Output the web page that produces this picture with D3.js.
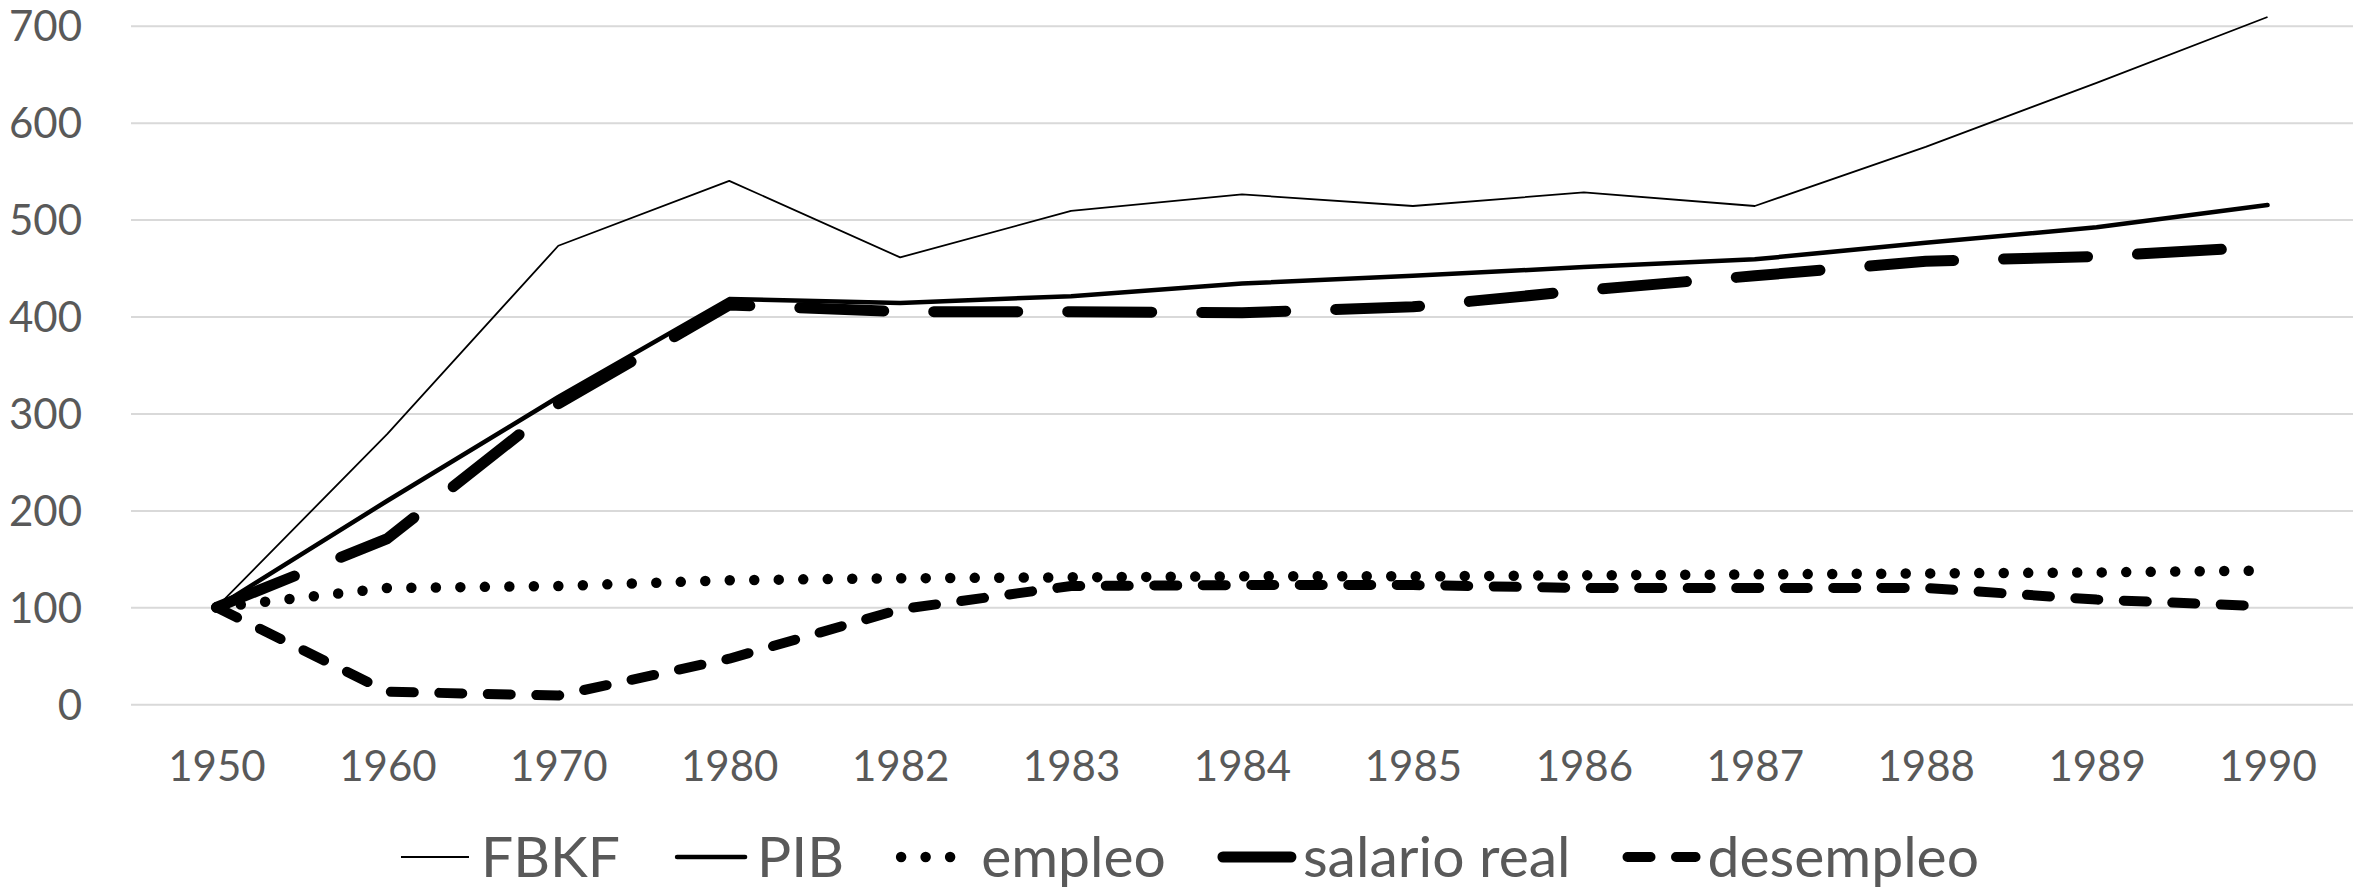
<!DOCTYPE html>
<html>
<head>
<meta charset="utf-8">
<script src="https://cdnjs.cloudflare.com/ajax/libs/d3/7.8.5/d3.min.js"></script>
<style>
    body { margin: 0; background: #fff; }
    text { font-family: Lato, "Open Sans", sans-serif; fill: #595959; }
</style>
</head>
<body>
<div id="chart"></div>
<script>
var years = ["1950", "1960", "1970", "1980", "1982", "1983", "1984", "1985", "1986", "1987", "1988", "1989", "1990"];
var yTicks = [0, 100, 200, 300, 400, 500, 600, 700];

var fbkf = [100, 279, 473, 540, 461, 509, 526, 514, 528, 514, 575, 641, 709];
var pib = [100, 210, 317, 418, 414, 421, 434, 442, 451, 459, 476, 492, 515];
var empleo = [100, 120, 122, 128, 130, 131, 132, 132, 133, 134, 135, 136, 138];
var salarioReal = [100, 171, 310, 412, 405, 405, 404, 410, 427, 442, 457, 462, 472];
var desempleo = [100, 13, 9, 47, 98, 122, 123, 123, 120, 120, 120, 108, 101];

var seriesNames = ["FBKF", "PIB", "empleo", "salario real", "desempleo"];

var W = 2364,
    H = 891,
    plot = { left: 131, right: 2353, top: 25.7, bottom: 704.3 };

var styles = {
    "FBKF": { width: 1.8, dash: null, cap: "butt" },
    "PIB": { width: 4.5, dash: null, cap: "round" },
    "empleo": { width: 10.5, dash: "0 24.5", cap: "round" },
    "salario real": { width: 11, dash: "84 50", cap: "round" },
    "desempleo": { width: 10, dash: "23 25.5", cap: "round" }
};

var seriesValues = {
    "FBKF": fbkf,
    "PIB": pib,
    "empleo": empleo,
    "salario real": salarioReal,
    "desempleo": desempleo
};

var svg = d3.select("#chart")
    .append("svg")
    .attr("width", W)
    .attr("height", H);

svg.append("rect")
    .attr("width", W)
    .attr("height", H)
    .attr("fill", "#fff");

var x = d3.scalePoint()
    .domain(years)
    .range([plot.left, plot.right])
    .padding(0.5);

var y = d3.scaleLinear()
    .domain([0, 700])
    .range([plot.bottom, plot.top]);

// gridlines
svg.append("g")
    .attr("transform", "translate(" + plot.left + ",0)")
    .call(d3.axisLeft(y)
        .tickValues(yTicks)
        .tickSize(-(plot.right - plot.left))
        .tickFormat(""))
    .call(function(g) {
        g.select(".domain").remove();
        g.selectAll("line")
            .attr("stroke", "#d9d9d9")
            .attr("stroke-width", 2);
    });

// y labels
svg.append("g")
    .attr("transform", "translate(" + plot.left + ",0)")
    .call(d3.axisLeft(y)
        .tickValues(yTicks)
        .tickSize(0)
        .tickPadding(49))
    .call(function(g) {
        g.select(".domain").remove();
        g.selectAll("text")
            .attr("font-family", null)
            .attr("font-size", null)
            .style("font-size", "42px")
            .attr("fill", "#595959")
            .attr("dy", "0.36em");
    });

// x labels
svg.append("g")
    .attr("transform", "translate(0," + plot.bottom + ")")
    .call(d3.axisBottom(x)
        .tickSize(0)
        .tickPadding(47))
    .call(function(g) {
        g.select(".domain").remove();
        g.selectAll("text")
            .attr("font-family", null)
            .attr("font-size", null)
            .style("font-size", "42px")
            .attr("fill", "#595959");
    });

var line = d3.line()
    .x(function(d, i) { return x(years[i]); })
    .y(function(d) { return y(d); });

seriesNames.forEach(function(name) {
    var s = styles[name];
    svg.append("path")
        .datum(seriesValues[name])
        .attr("d", line)
        .attr("fill", "none")
        .attr("stroke", "#000")
        .attr("stroke-width", s.width)
        .attr("stroke-linecap", s.cap)
        .attr("stroke-linejoin", "round")
        .attr("stroke-dasharray", s.dash);
});

// legend
var legendY = 857,
    sampleLen = 68,
    textOffset = 80,
    entryGap = 57,
    legendCenter = 1190;

var legend = svg.append("g");
var cursor = 0;
seriesNames.forEach(function(name) {
    var s = styles[name];
    var g = legend.append("g")
        .attr("transform", "translate(" + cursor + ",0)");
    g.append("line")
        .attr("x1", 0)
        .attr("x2", sampleLen)
        .attr("y1", legendY)
        .attr("y2", legendY)
        .attr("stroke", "#000")
        .attr("stroke-width", s.width)
        .attr("stroke-linecap", s.cap)
        .attr("stroke-dasharray", s.dash);
    var t = g.append("text")
        .attr("x", textOffset)
        .attr("y", legendY + 20)
        .style("font-size", "57px")
        .text(name);
    cursor += textOffset + t.node().getComputedTextLength() + entryGap;
});
var legendWidth = cursor - entryGap;
legend.attr("transform", "translate(" + (legendCenter - legendWidth / 2) + ",0)");
</script>
</body>
</html>
